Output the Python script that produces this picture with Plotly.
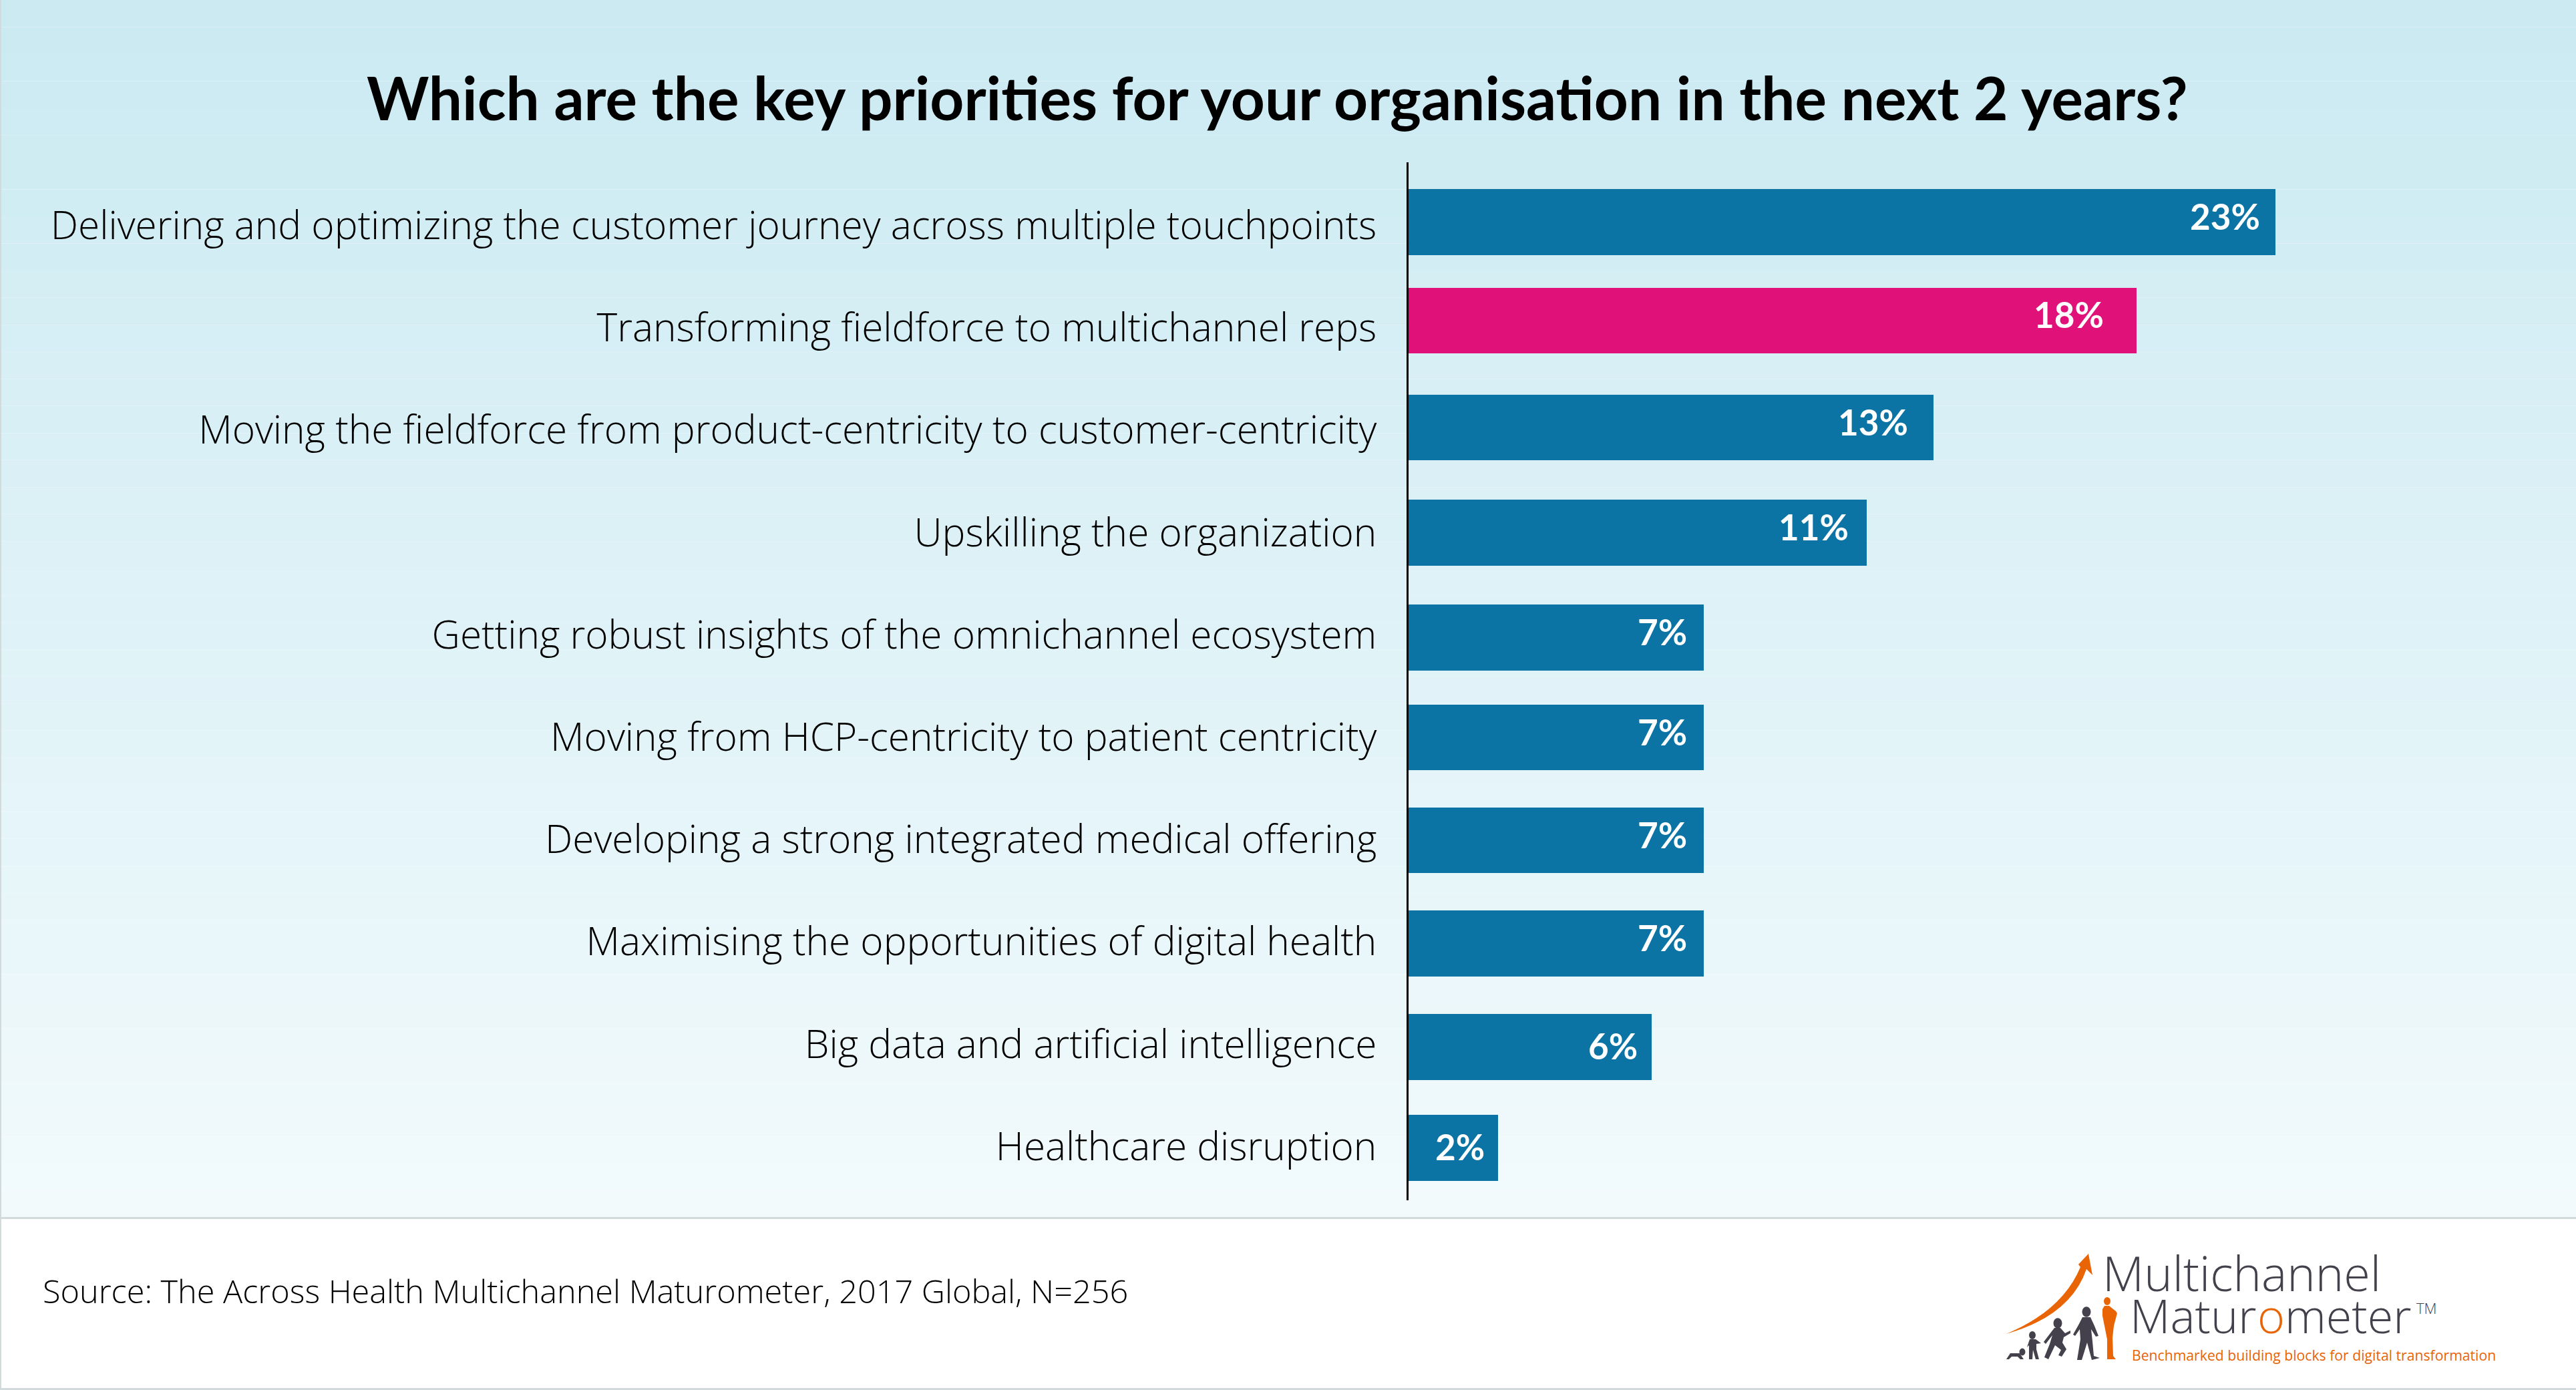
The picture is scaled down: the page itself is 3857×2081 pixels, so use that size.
import plotly.graph_objects as go

# ---- data ----
categories = [
    "Delivering and optimizing the customer journey across multiple touchpoints",
    "Transforming fieldforce to multichannel reps",
    "Moving the fieldforce from product-centricity to customer-centricity",
    "Upskilling the organization",
    "Getting robust insights of the omnichannel ecosystem",
    "Moving from HCP-centricity to patient centricity",
    "Developing a strong integrated medical offering",
    "Maximising the opportunities of digital health",
    "Big data and artificial intelligence",
    "Healthcare disruption",
]
# printed percentages
value_labels = ["23%", "18%", "13%", "11%", "7%", "7%", "7%", "7%", "6%", "2%"]
# drawn bar lengths as measured (the source bars are not exactly proportional to their labels)
bar_lengths = [21.45, 18.02, 12.99, 11.34, 7.31, 7.31, 7.31, 7.31, 6.02, 2.21]
bar_colors = ["#0B74A5", "#E0127A"] + ["#0B74A5"] * 8

title_text = "Which are the key priorities for your organisation in the next 2 years?"
source_text = "Source: The Across Health Multichannel Maturometer, 2017 Global, N=256"

# ---- page geometry ----
W, H = 3857, 2081
AX_X, AX_TOP, AX_BOT = 2109, 243, 1797
FOOT_Y = 1823
PX_PER_UNIT = 60.5
CAT_STEP = 153.2
FIRST_CENTER = 337.5
BAR_PX = 98.5
nudge_px = [-5, -10.7, -3.9, 0.4, 4.2, 0.5, 1.3, 2.6, 4.4, 2.2]      # irregular bar spacing in the source
label_gap_px = [21, 47, 36, 25, 23, 23, 23, 23, 19, 18]
label_lift_px = [9, 9, 9, 9, 9, 9, 9, 9, 2.5, 2.5]

LABEL_FONT = dict(family="Open Sans", size=58.5, color="#000000", weight=300)
GREY = "#45414C"
ORANGE = "#E86405"


def px(x, y):
    return f"{x / W:.5f},{1 - y / H:.5f}"


def poly(points, color):
    d = "M" + " L".join(px(*p) for p in points) + " Z"
    return dict(type="path", xref="paper", yref="paper", path=d,
                fillcolor=color, line=dict(width=0), layer="above")


def head(cx, cy, r, color):
    return dict(type="circle", xref="paper", yref="paper",
                x0=(cx - r) / W, x1=(cx + r) / W, y0=1 - (cy + r * 1.2) / H, y1=1 - (cy - r * 1.2) / H,
                fillcolor=color, line=dict(width=0), layer="above")


fig = go.Figure(go.Bar(
    y=categories, x=bar_lengths, orientation="h",
    marker=dict(color=bar_colors, line=dict(width=0)),
    width=BAR_PX / CAT_STEP,
    offset=[-BAR_PX / CAT_STEP / 2 + n / CAT_STEP for n in nudge_px],
    hoverinfo="skip",
))

annotations = [
    dict(x=v, y=c, xref="x", yref="y", text=t, showarrow=False, xanchor="right", yanchor="middle",
         xshift=-g, yshift=l - n,
         font=dict(family="Lato", size=53, color="#FFFFFF", weight=700))
    for c, v, t, g, l, n in zip(categories, bar_lengths, value_labels, label_gap_px, label_lift_px, nudge_px)
]


def page_text(text, x, y, anchor, font):
    return dict(text=text, x=x / W, y=1 - y / H, xref="paper", yref="paper", showarrow=False,
                xanchor=anchor, yanchor="middle", font=font)


LOGO_FONT = dict(family="Open Sans", size=70, color=GREY, weight=300)
annotations += [
    page_text(title_text, 1912, 145, "center", dict(family="Lato", size=89, color="#000000", weight=700)),
    page_text(source_text, 62, 1932, "left", dict(family="Open Sans", size=48.6, color="#000000", weight=300)),
    page_text("Multichannel", 3146, 1905, "left", dict(family="Open Sans", size=72, color=GREY, weight=300)),
    page_text("Matur", 3381, 1969, "right", LOGO_FONT),
    page_text("o", 3400, 1969, "center", dict(family="Open Sans", size=70, color=ORANGE, weight=300)),
    page_text("meter", 3419, 1969, "left", LOGO_FONT),
    page_text("TM", 3616, 1958, "left", dict(family="Open Sans", size=22, color=GREY, weight=300)),
    page_text("Benchmarked building blocks for digital transformation", 3190, 2028, "left",
              dict(family="Open Sans", size=21.2, color=ORANGE)),
]

# background: vertical gradient bands, footer rules
shapes = []
N_BANDS = 45
top_rgb, bot_rgb = (203, 234, 242), (242, 250, 252)
for i in range(N_BANDS):
    t = i / (N_BANDS - 1)
    c = tuple(round(a + (b - a) * t) for a, b in zip(top_rgb, bot_rgb))
    shapes.append(dict(type="rect", xref="paper", yref="paper", x0=0, x1=1,
                       y0=1 - (i + 1) * FOOT_Y / N_BANDS / H, y1=1 - i * FOOT_Y / N_BANDS / H,
                       fillcolor=f"rgb{c}", line=dict(width=0), layer="below"))
RULE = "#D3DADC"
for y0, y1 in [(FOOT_Y - 1, FOOT_Y + 2), (H - 3, H)]:
    shapes.append(dict(type="rect", xref="paper", yref="paper", x0=0, x1=1, y0=1 - y1 / H, y1=1 - y0 / H,
                       fillcolor=RULE, line=dict(width=0), layer="above"))
shapes.append(dict(type="rect", xref="paper", yref="paper", x0=0, x1=2 / W, y0=0, y1=1,
                   fillcolor=RULE, line=dict(width=0), layer="above"))

# logo: rising arrow and silhouettes
shapes.append(dict(type="path", xref="paper", yref="paper", layer="above", fillcolor=ORANGE, line=dict(width=0),
                   path="M" + px(3004, 1997) + " Q" + px(3088, 1962) + " " + px(3115, 1897) +
                        " L" + px(3112, 1893) + " L" + px(3127, 1877) + " L" + px(3133, 1909) +
                        " L" + px(3124, 1900) + " Q" + px(3100, 1970) + " " + px(3004, 1997) + " Z"))
shapes += [
    # baby crawling
    head(3028, 2024, 4.5, GREY),
    poly([(3004, 2035), (3010, 2026), (3024, 2026), (3030, 2035), (3025, 2035), (3021, 2031), (3012, 2031), (3008, 2035)], GREY),
    # toddler
    head(3043, 1999, 5, GREY),
    poly([(3039, 2005), (3048, 2005), (3056, 2011), (3049, 2012), (3049, 2020), (3053, 2035), (3048, 2035),
          (3044, 2021), (3043, 2035), (3038, 2035), (3038, 2014), (3035, 2017)], GREY),
    # child running
    head(3081, 1981, 6.5, GREY),
    poly([(3076, 1988), (3085, 1988), (3092, 1996), (3100, 1992), (3100, 1996), (3090, 2002), (3088, 2010),
          (3094, 2020), (3087, 2031), (3082, 2029), (3086, 2021), (3077, 2014), (3067, 2035), (3061, 2032),
          (3069, 2012), (3073, 1999), (3063, 2012), (3060, 2009)], GREY),
    # adult walking
    head(3124, 1964, 6.5, GREY),
    poly([(3118, 1972), (3130, 1972), (3136, 1985), (3142, 2000), (3138, 2001), (3131, 1990), (3133, 2008),
          (3135, 2030), (3144, 2033), (3132, 2036), (3125, 2010), (3117, 2036), (3110, 2036), (3115, 2005),
          (3114, 1990), (3107, 2000), (3104, 1998), (3113, 1982)], GREY),
    # full-height orange figure
    head(3155, 1948, 5, ORANGE),
    poly([(3151, 1955), (3158, 1955), (3168, 1963), (3170, 1966), (3165, 1985), (3163, 2003), (3164, 2030),
          (3168, 2035), (3155, 2035), (3155, 2005), (3151, 1985), (3148, 1970), (3148, 1960)], ORANGE),
]

fig.update_layout(
    width=W, height=H, autosize=False,
    margin=dict(l=0, r=0, t=0, b=0, pad=0),
    paper_bgcolor="#FFFFFF", plot_bgcolor="rgba(0,0,0,0)",
    showlegend=False, bargap=0,
    annotations=annotations, shapes=shapes,
    font=dict(family="Open Sans"),
    xaxis=dict(domain=[AX_X / W, 1], range=[0, (W - AX_X) / PX_PER_UNIT],
               visible=False, showgrid=False, zeroline=False, fixedrange=True),
    yaxis=dict(domain=[1 - AX_BOT / H, 1 - AX_TOP / H],
               categoryorder="array", categoryarray=categories, automargin=False,
               range=[(AX_BOT - FIRST_CENTER) / CAT_STEP, (AX_TOP - FIRST_CENTER) / CAT_STEP],
               showline=True, linecolor="#000000", linewidth=3, showgrid=False, zeroline=False,
               ticks="", ticklabelstandoff=33, tickfont=LABEL_FONT, fixedrange=True),
)

fig.write_html("out.html", post_script="document.body.style.margin='0';document.documentElement.style.overflow='hidden';",
               config=dict(displayModeBar=False))
